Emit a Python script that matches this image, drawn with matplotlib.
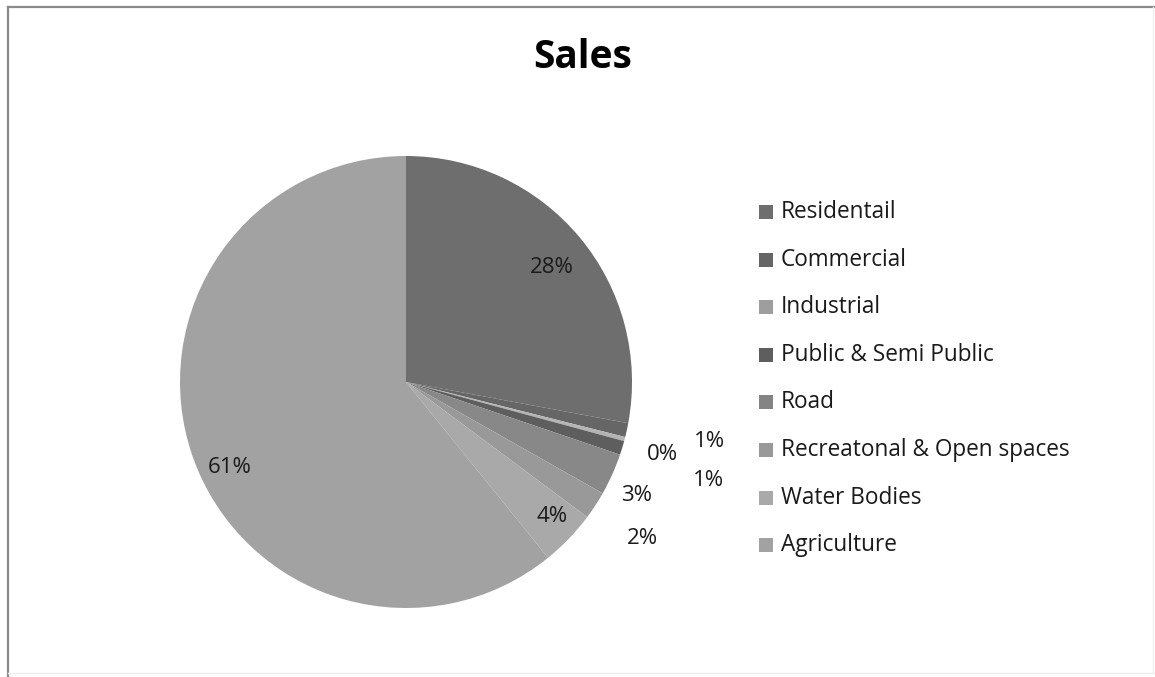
import numpy as np
import matplotlib
matplotlib.use("Agg")
import matplotlib.pyplot as plt
from matplotlib.patches import Rectangle
from matplotlib.lines import Line2D

categories = ["Residentail", "Commercial", "Industrial", "Public & Semi Public",
              "Road", "Recreatonal & Open spaces", "Water Bodies", "Agriculture"]
values = [28.0, 1.0, 0.3, 1.0, 3.0, 2.0, 4.0, 61.0]
colors = ["#6e6e6e", "#666666", "#b4b4b4", "#5e5e5e",
          "#888888", "#999999", "#a9a9a9", "#a2a2a2"]
legend_colors = ["#6e6e6e", "#666666", "#9e9e9e", "#5e5e5e",
                 "#848484", "#999999", "#a9a9a9", "#a2a2a2"]

# label placement: (radius factor, angular offset in degrees)
label_layout = [(0.82, -1.75), (1.37, 1.3), (1.177, -1.1), (1.406, -1.15),
                (1.136, -2.2), (1.254, -0.4), (0.88, 1.15), (0.867, 6.5)]

plt.rcParams['font.family'] = ['Open Sans', 'DejaVu Sans']

fig = plt.figure(figsize=(11.55, 6.77), dpi=100)
W, H = 1155, 677

# frame (left and top clearly visible, right/bottom faint)
def fline(x0, y0, x1, y1, color, lw):
    fig.add_artist(Line2D([x0 / W, x1 / W], [1 - y0 / H, 1 - y1 / H],
                          transform=fig.transFigure, color=color, linewidth=lw))

fline(8, 7, 1155, 7, "#8a8a8a", 1.6)
fline(8, 7, 8, 677, "#8a8a8a", 1.6)
fline(1153, 7, 1153, 673, "#efefef", 1.0)
fline(8, 673, 1153, 673, "#efefef", 1.0)

fig.text(583 / W, 1 - 58 / H, "Sales", ha="center", va="center",
         fontsize=28, fontweight="bold", color="#000000")

# pie axes: center (406,382), radius 226 px
R = 226
cx, cy = 406, 382
ax = fig.add_axes([(cx - R) / W, 1 - (cy + R) / H, 2 * R / W, 2 * R / H])
wedges, _ = ax.pie(values, colors=colors, startangle=90, counterclock=False,
                   radius=1.0, wedgeprops=dict(linewidth=0))
ax.set_xlim(-1, 1)
ax.set_ylim(-1, 1)
ax.set_aspect("equal")

total = sum(values)
for w, v, (rf, off) in zip(wedges, values, label_layout):
    mid = np.deg2rad((w.theta1 + w.theta2) / 2 + off)
    x, y = rf * np.cos(mid), rf * np.sin(mid)
    ax.text(x, y, f"{v / total * 100:.0f}%", ha="center", va="center",
            fontsize=16, color="#1a1a1a", clip_on=False)

# legend
y0, dy = 212, 47.6
for i, (name, c) in enumerate(zip(categories, legend_colors)):
    yy = y0 + i * dy
    fig.patches.append(Rectangle((759 / W, 1 - (yy + 7) / H), 14 / W, 14 / H,
                                 transform=fig.transFigure, facecolor=c,
                                 edgecolor="none"))
    fig.text(781 / W, 1 - yy / H, name, ha="left", va="center",
             fontsize=16.3, color="#1a1a1a")

fig.savefig("out.png", dpi=100, facecolor="white")
